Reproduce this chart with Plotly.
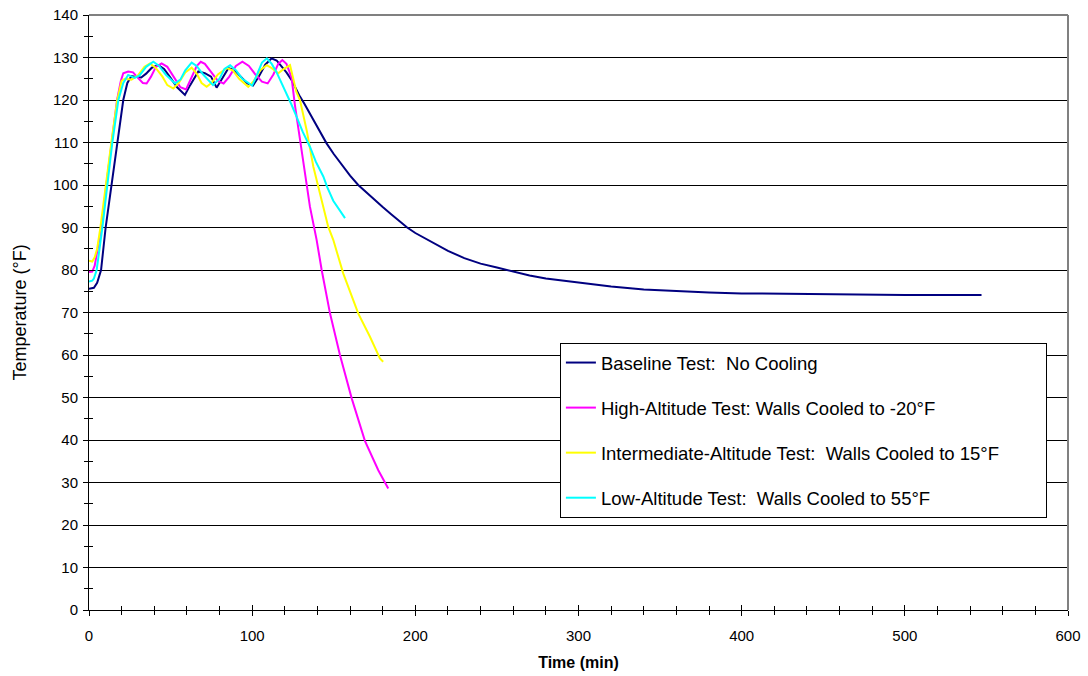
import plotly.graph_objects as go

# ---------------- data ----------------
base_t = [0, 3, 5, 7.4, 10.2, 13.9, 17.3, 21, 23.5, 26, 29, 32, 35, 38.5, 42.5, 46, 50, 54, 58.8,
          62, 67, 71, 74.8, 78.2, 82, 85.4, 89, 93, 97, 100.5, 104, 108, 111.9, 115, 118, 121,
          124, 127, 129.3, 132, 135, 138, 141, 145.6, 150, 155, 160, 165, 170, 175, 180, 185, 190,
          195, 200, 210, 220, 230, 240, 250, 260, 270, 280, 290, 300, 320, 340, 360, 380, 400,
          420, 440, 460, 480, 500, 520, 547]
base_T = [75.6, 75.8, 77, 80, 90, 100, 110, 120, 124, 125.6, 125.4, 125.3, 126.2, 127.6, 128.2,
          127.3, 125.2, 123, 121.2, 123.5, 126.7, 126.3, 125.5, 122.9, 125.3, 127.5, 127.1,
          125.5, 123.9, 123.4, 125.5, 128.3, 129.8, 129.3, 128, 126.5, 124.8, 122.5, 120.8,
          119.1, 117.1, 115.1, 113, 109.8, 107.3, 104.6, 102.2, 100, 98.2, 96.4, 94.8, 93.2, 91.6,
          90, 88.7, 86.5, 84.5, 82.8, 81.5, 80.6, 79.6, 78.7, 78, 77.5, 77, 76.1, 75.4, 75,
          74.7, 74.5, 74.4, 74.3, 74.2, 74.1, 74.1, 74.1, 74.1]

high_t = [0, 2, 3.5, 5, 7.6, 10.6, 13.8, 17.2, 19.5, 21, 24, 27, 30, 33, 35.3, 38, 41, 44.5, 48,
          52, 56, 59.5, 63, 66, 68.5, 71, 75, 79, 82.5, 86, 90, 94, 98, 102, 106, 109.5, 113,
          116, 118.5, 121, 123, 124.2, 126.2, 128, 131.3, 135.4, 139.5, 142.6, 147.7, 153.8,
          161, 169.1, 177.3, 183.4]
high_T = [79.5, 79.6, 81, 84, 90, 100, 110, 120, 124.5, 126.3, 126.7, 126.5, 125.2, 124, 123.9,
          125.5, 127.8, 128.6, 127.8, 125.5, 123, 122.5, 125.5, 128, 129, 128.5, 126.5, 124.5,
          123.9, 125.5, 128, 129, 128, 126, 124.3, 123.9, 126, 128.5, 129.4, 128.5, 126.5,
          125.1, 118.8, 114, 105.1, 94.9, 87.1, 80, 69.8, 60, 49.8, 39.8, 32.9, 28.6]

mid_t = [0, 2, 3.5, 5, 7, 10.2, 13.7, 17.3, 20, 22, 26, 30, 34, 37.4, 41, 45, 48, 51.7, 55, 59,
         62.9, 66, 69, 72.1, 75, 79, 84.4, 88, 92, 97.6, 101, 105, 108.9, 112, 116, 119, 123.2,
         125.2, 127, 129.3, 133.4, 137.5, 141.5, 146.6, 149.7, 155.8, 165, 172.2, 178.3, 180.3]
mid_T = [82.2, 82, 83, 85, 90, 100, 110, 120, 124.5, 125, 124.8, 125.8, 127.8, 128.6, 127.5,
         125.5, 123.5, 122.7, 124, 126.5, 127.6, 126.2, 124, 123.1, 124, 126, 127.5, 127, 125,
         123.1, 124.5, 127, 128.2, 127.5, 126.3, 127.2, 128.2, 125, 122, 120, 112.9, 104.3,
         98, 90.2, 87.1, 79.2, 69.8, 64.3, 59.2, 58.4]

low_t = [0, 2, 3, 4.7, 8.2, 11.2, 14.3, 18, 21, 24, 28, 31, 35, 39.4, 43, 47, 52.7, 56, 59, 62.9,
         66, 70, 76, 80, 83, 86.5, 90, 94, 100, 103, 106, 109, 112, 115, 118.1, 121.1, 124,
         127.2, 131, 135.4, 139, 143.6, 146, 149.7, 153, 156.9]
low_T = [77.3, 77.5, 78, 80, 90, 100, 110, 120, 124, 125.9, 125.2, 125.8, 127.8, 129, 128, 126,
         123.9, 124.8, 127, 128.8, 128, 126, 123.5, 125, 127.3, 128.2, 127, 125, 123.4, 126,
         128.8, 129.8, 128.5, 126.5, 124, 121.6, 119, 116.1, 112.5, 109, 105.5, 102, 99.5,
         96.3, 94.3, 92.2]

names = ["Baseline Test:\u00a0 No Cooling",
         "High-Altitude Test: Walls Cooled to -20°F",
         "Intermediate-Altitude Test:\u00a0 Walls Cooled to 15°F" + "\u00a0" * 8,
         "Low-Altitude Test:\u00a0 Walls Cooled to 55°F"]
colors = ["#000080", "#FF00FF", "#FFFF00", "#00FFFF"]
series = [(base_t, base_T), (high_t, high_T), (mid_t, mid_T), (low_t, low_T)]

x_ticks = [0, 100, 200, 300, 400, 500, 600]
y_ticks = list(range(0, 141, 10))

FONT = "Liberation Sans, Arial, sans-serif"

fig = go.Figure()
for i, ((t, T), name, col) in enumerate(zip(series, names, colors)):
    fig.add_trace(go.Scatter(x=t, y=T, mode="lines", name=name,
                             line=dict(color=col, width=2),
                             legendgroup=f"g{i}"))

# invisible trace to activate overlay axes (used for the crossing ticks)
fig.add_trace(go.Scatter(x=[0], y=[0], xaxis="x2", yaxis="y2", mode="markers",
                         marker=dict(opacity=0), showlegend=False, hoverinfo="skip"))

fig.update_layout(
    width=1088, height=676,
    paper_bgcolor="white", plot_bgcolor="white",
    margin=dict(l=89, r=20, t=15, b=66),
    font=dict(family=FONT, color="black", size=15),
    xaxis=dict(range=[0, 600], tickvals=x_ticks, ticks="outside", ticklen=5,
               tickcolor="black", showline=True, linecolor="black", linewidth=1,
               showgrid=False, zeroline=False, automargin=False, ticklabelstandoff=7,
               ticklabeloverflow="allow",
               minor=dict(dtick=20, ticks="outside", ticklen=4, tickcolor="black"),
               title=dict(text="<b>Time (min)</b>", font=dict(size=16), standoff=13),
               tickfont=dict(size=15)),
    yaxis=dict(range=[0, 140], tickvals=y_ticks, ticks="outside", ticklen=5,
               tickcolor="black", showline=True, linecolor="black", linewidth=1,
               showgrid=True, gridcolor="black", gridwidth=1, zeroline=False,
               automargin=False, ticklabelstandoff=2, ticklabeloverflow="allow",
               minor=dict(dtick=5, ticks="outside", ticklen=4, tickcolor="black",
                          showgrid=False),
               title=dict(text="Temperature (°F)", font=dict(size=18), standoff=21),
               tickfont=dict(size=15)),
    xaxis2=dict(range=[0, 600], overlaying="x", anchor="y", side="bottom",
                tickvals=x_ticks, ticks="inside", ticklen=5, tickcolor="black",
                showticklabels=False, showgrid=False, zeroline=False, showline=False,
                automargin=False,
                minor=dict(dtick=20, ticks="inside", ticklen=4, tickcolor="black")),
    yaxis2=dict(range=[0, 140], overlaying="y", anchor="x", side="left",
                tickvals=y_ticks, ticks="inside", ticklen=5, tickcolor="black",
                showticklabels=False, showgrid=False, zeroline=False, showline=False,
                automargin=False,
                minor=dict(dtick=5, ticks="inside", ticklen=4, tickcolor="black")),
    legend=dict(x=0.481, y=0.4487, xanchor="left", yanchor="top",
                bgcolor="white", bordercolor="black", borderwidth=1,
                font=dict(size=18.5, family=FONT), tracegroupgap=18,
                itemwidth=30),
    showlegend=True,
)

# gray frame on top and right of plot area
fig.add_shape(type="line", xref="paper", yref="paper", x0=0, x1=1, y0=1, y1=1,
              line=dict(color="#808080", width=2), layer="above")
fig.add_shape(type="line", xref="paper", yref="paper", x0=1, x1=1, y0=0, y1=1,
              line=dict(color="#808080", width=2), layer="above")

# remove the default 8px page margin so the figure fills the window exactly
fig.write_html("out.html",
               config={"displayModeBar": False},
               post_script="document.body.style.margin='0px';document.body.style.overflow='hidden';")
